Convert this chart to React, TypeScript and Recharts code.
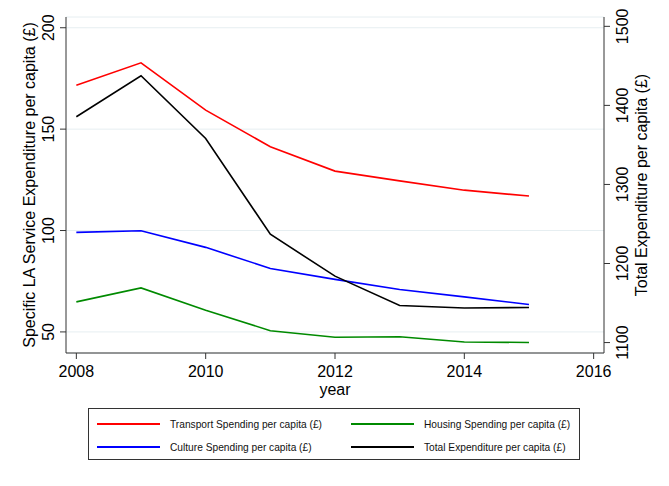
import React from "react";
import { CartesianGrid, Label, Line, LineChart, XAxis, YAxis } from "recharts";

const years = [2008, 2009, 2010, 2011, 2012, 2013, 2014, 2015];
const transport = [171.7, 182.7, 159.4, 141.3, 129.3, 124.5, 119.9, 117.0];
const culture = [99.1, 99.9, 91.7, 81.3, 75.9, 70.9, 67.3, 63.5];
const housing = [64.8, 71.7, 60.7, 50.6, 47.4, 47.6, 45.0, 44.8];
const total = [1385.6, 1437.5, 1358.2, 1237.0, 1184.0, 1146.8, 1143.8, 1144.3];

const xTicks = [2008, 2010, 2012, 2014, 2016];
const leftTicks = [50, 100, 150, 200];
const rightTicks = [1100, 1200, 1300, 1400, 1500];

const FONT = "'Liberation Sans', Arial, Helvetica, sans-serif";

const data = years.map((year, i) => ({
  year,
  transport: transport[i],
  culture: culture[i],
  housing: housing[i],
  total: total[i],
}));

const series = [
  { key: "transport", name: "Transport Spending per capita (£)", color: "#ff0000", axis: "left" },
  { key: "housing", name: "Housing Spending per capita (£)", color: "#008a00", axis: "left" },
  { key: "culture", name: "Culture Spending per capita (£)", color: "#0000ff", axis: "left" },
  { key: "total", name: "Total Expenditure per capita (£)", color: "#000000", axis: "right" },
];

function XTick({ x, y, payload }: any) {
  return (
    <text x={x} y={y} textAnchor="middle" fontSize={16} fontFamily={FONT} fill="#000">
      {payload.value}
    </text>
  );
}

function RotTick({ x, y, payload }: any) {
  return (
    <text
      x={x}
      y={y}
      transform={`rotate(-90 ${x} ${y})`}
      textAnchor="middle"
      fontSize={16}
      fontFamily={FONT}
      fill="#000"
    >
      {payload.value}
    </text>
  );
}

function rotTitle(text: string, dx: number) {
  return ({ viewBox }: any) => {
    const x = viewBox.x + dx;
    const y = viewBox.y + viewBox.height / 2;
    return (
      <text
        x={x}
        y={y}
        transform={`rotate(-90 ${x} ${y})`}
        textAnchor="middle"
        fontSize={16}
        fontFamily={FONT}
        fill="#000"
      >
        {text}
      </text>
    );
  };
}

function yearTitle({ viewBox }: any) {
  return (
    <text
      x={viewBox.x + viewBox.width / 2}
      y={viewBox.y + 42}
      textAnchor="middle"
      fontSize={16}
      fontFamily={FONT}
      fill="#000"
    >
      year
    </text>
  );
}

function ChartLegend() {
  return (
    <div
      style={{
        position: "absolute",
        left: 88,
        top: 408,
        width: 492,
        height: 52,
        border: "1px solid #333",
        fontFamily: FONT,
        fontSize: 10.2,
        color: "#111",
        boxSizing: "border-box",
      }}
    >
      {series.map((s, i) => {
        const col = i % 2;
        const row = Math.floor(i / 2);
        return (
          <div
            key={s.key}
            style={{
              position: "absolute",
              left: 8 + col * 254,
              top: 15 + row * 23 - 8,
              height: 16,
              display: "flex",
              alignItems: "center",
              whiteSpace: "nowrap",
            }}
          >
            <span style={{ display: "inline-block", width: 63, height: 1.5, background: s.color }} />
            <span style={{ marginLeft: 10 }}>{s.name}</span>
          </div>
        );
      })}
    </div>
  );
}

export default function App() {
  return (
    <div style={{ position: "absolute", left: 0, top: 0, width: 669, height: 486, background: "#fff" }}>
      <LineChart width={669} height={486} data={data} margin={{ top: 17, right: 0, bottom: 83, left: 0 }}>
        <CartesianGrid yAxisId="left" vertical={false} stroke="#e6eef1" strokeWidth={1} />
        <XAxis
          dataKey="year"
          type="number"
          domain={[2007.84, 2016.16]}
          ticks={xTicks}
          interval={0}
          height={50}
          tickSize={6}
          tickMargin={18}
          tick={<XTick />}
          axisLine={{ stroke: "#333" }}
          tickLine={{ stroke: "#333" }}
        >
          <Label content={yearTitle} />
        </XAxis>
        <YAxis
          yAxisId="left"
          orientation="left"
          type="number"
          domain={[39.6, 205.3]}
          ticks={leftTicks}
          interval={0}
          width={66}
          tickSize={6}
          tickMargin={6}
          tick={<RotTick />}
          axisLine={{ stroke: "#333" }}
          tickLine={{ stroke: "#333" }}
        >
          <Label content={rotTitle("Specific LA Service Expenditure per capita (£)", 35)} />
        </YAxis>
        <YAxis
          yAxisId="right"
          orientation="right"
          type="number"
          domain={[1086.8, 1511.8]}
          ticks={rightTicks}
          interval={0}
          width={65}
          tickSize={6}
          tickMargin={18}
          tick={<RotTick />}
          axisLine={{ stroke: "#333" }}
          tickLine={{ stroke: "#333" }}
        >
          <Label content={rotTitle("Total Expenditure per capita (£)", 43)} />
        </YAxis>
        {series.map((s) => (
          <Line
            key={s.key}
            yAxisId={s.axis}
            type="linear"
            dataKey={s.key}
            name={s.name}
            stroke={s.color}
            strokeWidth={1.6}
            dot={false}
            activeDot={false}
            isAnimationActive={false}
          />
        ))}
      </LineChart>
      <ChartLegend />
    </div>
  );
}
